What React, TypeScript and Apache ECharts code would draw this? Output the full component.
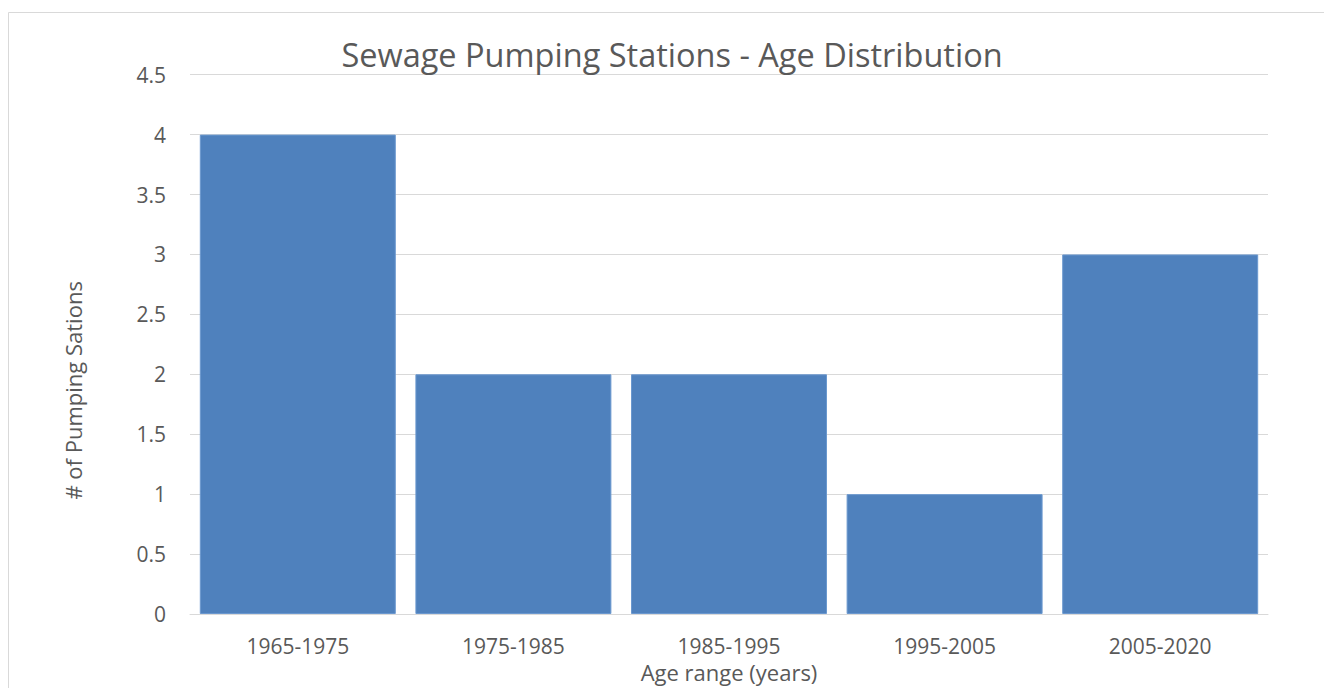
import React, { useEffect, useRef } from "react";
import * as echarts from "echarts";

const categories = ["1965-1975", "1975-1985", "1985-1995", "1995-2005", "2005-2020"];
const stationCounts = [4, 2, 2, 1, 3];
const yTicks = [0, 0.5, 1, 1.5, 2, 2.5, 3, 3.5, 4, 4.5];

const FONT = "'Open Sans', 'Noto Sans', sans-serif";
const TEXT = "#595959";
const GRID = "#d9d9d9";

export default function App() {
  const ref = useRef<HTMLDivElement>(null);
  useEffect(() => {
    if (!ref.current) return;
    document.body.style.margin = "0";
    document.body.style.overflow = "hidden";
    const chart = echarts.init(ref.current, undefined, { renderer: "svg" });
    chart.setOption({
      animation: false,
      backgroundColor: "#ffffff",
      textStyle: { fontFamily: FONT },
      title: {
        text: "Sewage Pumping Stations - Age Distribution",
        left: 667,
        top: 49,
        textAlign: "center",
        textVerticalAlign: "middle",
        textStyle: { color: TEXT, fontSize: 32.5, fontWeight: "normal", fontFamily: FONT },
      },
      graphic: [
        { type: "line", shape: { x1: 8.5, y1: 12.5, x2: 1324, y2: 12.5 }, style: { stroke: GRID, lineWidth: 1 } },
        { type: "line", shape: { x1: 8.5, y1: 12.5, x2: 8.5, y2: 688 }, style: { stroke: GRID, lineWidth: 1 } },
      ],
      grid: { left: 190, right: 56, top: 74.7, height: 546.6, containLabel: false },
      xAxis: {
        type: "category",
        data: categories,
        name: "Age range (years)",
        nameLocation: "middle",
        nameGap: 47,
        nameTextStyle: { color: TEXT, fontSize: 22, fontFamily: FONT },
        axisLine: { show: true, lineStyle: { color: GRID, width: 1 } },
        axisTick: { show: false },
        axisLabel: { color: TEXT, fontSize: 21, margin: 21, fontFamily: FONT },
      },
      yAxis: {
        type: "value",
        min: yTicks[0],
        max: yTicks[yTicks.length - 1],
        interval: 0.5,
        name: "# of Pumping Sations",
        nameLocation: "middle",
        nameGap: 106,
        nameTextStyle: { color: TEXT, fontSize: 22, fontFamily: FONT, padding: [0, 92, 0, 0] },
        axisLine: { show: false },
        axisTick: { show: false },
        splitLine: { lineStyle: { color: GRID, width: 1 } },
        axisLabel: { color: TEXT, fontSize: 21, margin: 24, fontFamily: FONT },
      },
      series: [
        {
          type: "bar",
          data: stationCounts,
          barCategoryGap: "9.1%",
          itemStyle: { color: "#4f81bd", borderColor: "#6b98cf", borderWidth: 1 },
        },
      ],
    });
    return () => chart.dispose();
  }, []);
  return <div ref={ref} style={{ width: 1324, height: 688 }} />;
}
